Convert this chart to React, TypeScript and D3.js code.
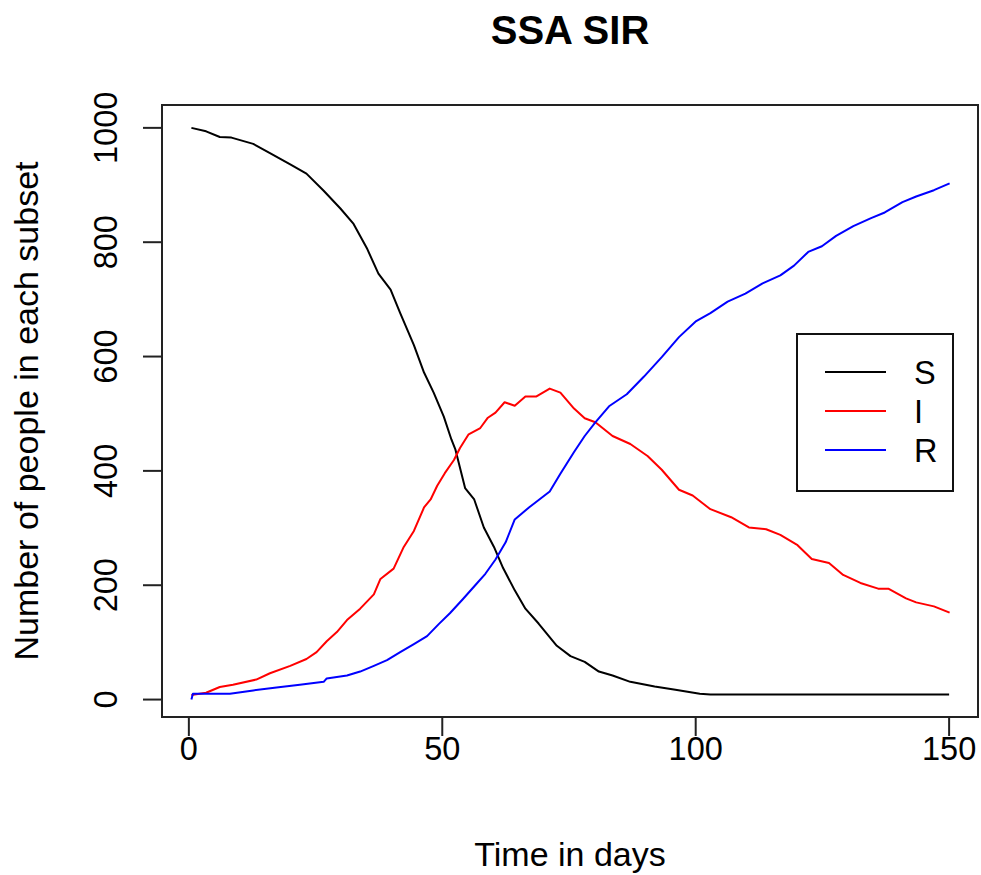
import React from "react";
import * as d3 from "d3";

const title = "SSA SIR";
const xLabel = "Time in days";
const yLabel = "Number of people in each subset";
const xTicks = [0, 50, 100, 150];
const yTicks = [0, 200, 400, 600, 800, 1000];
const legendLabels = ["S", "I", "R"];
const seriesColors = ["black", "red", "blue"];

const sDays = [0.5, 3.4, 6.1, 8.4, 12.7, 16.0, 20.0, 23.2, 26.6, 29.9, 32.5, 35.1, 37.4, 39.8, 41.7, 44.4, 46.4, 48.3, 50.3, 51.8, 52.6, 54.5, 56.3, 58.2, 60.2, 62.0, 64.3, 66.4, 69.0, 72.6, 75.3, 78.1, 80.9, 83.6, 87.1, 91.9, 96.0, 100.8, 102.9, 110, 118, 125, 132, 140, 145, 150];
const sValues = [1000, 994, 984, 983, 972, 956, 936, 920, 890, 859, 832, 790, 745, 717, 676, 620, 572, 537, 495, 455, 437, 370, 350, 301, 267, 230, 191, 159, 133, 94, 76, 66, 49, 42, 31, 23, 17, 10, 9, 9, 9, 9, 9, 9, 9, 9];

const iDays = [0.5, 3.4, 6.1, 8.7, 13.3, 16.0, 20.0, 23.2, 25.2, 27.2, 29.2, 31.2, 33.8, 36.5, 37.8, 40.4, 42.4, 44.4, 46.4, 47.7, 49.0, 50.5, 52.3, 53.5, 55.2, 57.5, 59.0, 60.5, 62.3, 64.3, 66.4, 68.5, 71.2, 73.3, 76.0, 78.1, 80.2, 83.6, 87.1, 90.5, 93.3, 96.7, 99.4, 102.9, 107.0, 110.5, 113.9, 116.7, 120.1, 122.9, 126.3, 129.1, 132.5, 136.0, 138.0, 141.5, 143.5, 147.0, 150.1];
const iValues = [8, 12, 22, 26, 35, 46, 59, 71, 83, 102, 118, 139, 159, 184, 211, 229, 267, 295, 336, 350, 374, 396, 419, 440, 464, 475, 493, 502, 520, 514, 530, 530, 544, 537, 509, 492, 485, 461, 447, 426, 402, 367, 357, 333, 319, 301, 298, 288, 270, 246, 239, 218, 204, 194, 194, 177, 170, 163, 152];

const rDays = [0.5, 0.8, 3.4, 8.1, 12.7, 17.3, 21.9, 26.6, 27.2, 31.2, 33.8, 36.5, 39.1, 41.7, 44.4, 47.0, 49.3, 51.5, 54.0, 56.5, 58.5, 60.5, 62.5, 64.3, 67.1, 71.2, 73.3, 76.0, 78.1, 80.2, 82.9, 86.4, 89.8, 93.3, 96.7, 100.1, 102.9, 106.3, 109.8, 113.2, 116.7, 119.4, 122.2, 124.9, 127.7, 131.1, 134.6, 137.3, 140.8, 143.5, 147.0, 150.1];
const rValues = [0, 10, 10, 10, 16, 21, 26, 31, 37, 42, 49, 59, 69, 83, 97, 111, 132, 151, 175, 200, 220, 245, 275, 315, 336, 364, 395, 433, 461, 485, 513, 534, 565, 599, 634, 662, 676, 696, 710, 728, 742, 759, 783, 793, 811, 828, 842, 852, 870, 880, 891, 903];

const FONT = "'Liberation Sans', Arial, sans-serif";

export default function App() {
  const W = 981;
  const H = 875;
  const left = 162, right = 978, top = 105, bottom = 717;

  const x = d3.scaleLinear().domain([-5.3, 155.7]).range([left, right]);
  const y = d3.scaleLinear().domain([-30.5, 1040]).range([bottom, top]);

  const makeLine = (days: number[], vals: number[]) =>
    d3.line<number>()
      .x((_, i) => x(days[i]))
      .y((v) => y(v))(vals) || "";

  const series = [
    makeLine(sDays, sValues),
    makeLine(iDays, iValues),
    makeLine(rDays, rValues),
  ];

  const legend = { x0: 797, y0: 334, x1: 953, y1: 491 };
  const legendYs = [372, 411, 450];

  return (
    <svg width={W} height={H} style={{ position: "absolute", left: 0, top: 0, background: "white" }} fontFamily={FONT}>
      <rect x={0} y={0} width={W} height={H} fill="white" />
      <text x={(left + right) / 2} y={44} textAnchor="middle" fontWeight="bold" fontSize={40}>{title}</text>

      {series.map((d, i) => (
        <path key={i} d={d} fill="none" stroke={seriesColors[i]} strokeWidth={2} strokeLinejoin="round" />
      ))}

      <rect x={left} y={top} width={right - left} height={bottom - top} fill="none" stroke="#222" strokeWidth={2} />

      {xTicks.map((t) => (
        <g key={t}>
          <line x1={x(t)} x2={x(t)} y1={bottom} y2={bottom + 19} stroke="#222" strokeWidth={2} />
          <text x={x(t)} y={760} textAnchor="middle" fontSize={32.5}>{t}</text>
        </g>
      ))}
      {yTicks.map((t) => (
        <g key={t}>
          <line x1={left - 19} x2={left} y1={y(t)} y2={y(t)} stroke="#222" strokeWidth={2} />
          <text transform={`translate(117,${y(t)}) rotate(-90)`} textAnchor="middle" fontSize={32.5}>{t}</text>
        </g>
      ))}

      <text x={(left + right) / 2} y={866} textAnchor="middle" fontSize={34}>{xLabel}</text>
      <text transform={`translate(38,${(top + bottom) / 2}) rotate(-90)`} textAnchor="middle" fontSize={34}>{yLabel}</text>

      <rect x={legend.x0} y={legend.y0} width={legend.x1 - legend.x0} height={legend.y1 - legend.y0} fill="white" stroke="#111" strokeWidth={2} />
      {legendLabels.map((lab, i) => (
        <g key={lab}>
          <line x1={825} x2={886} y1={legendYs[i]} y2={legendYs[i]} stroke={seriesColors[i]} strokeWidth={2} />
          <text x={914} y={legendYs[i] + 12} fontSize={32.5}>{lab}</text>
        </g>
      ))}
    </svg>
  );
}
